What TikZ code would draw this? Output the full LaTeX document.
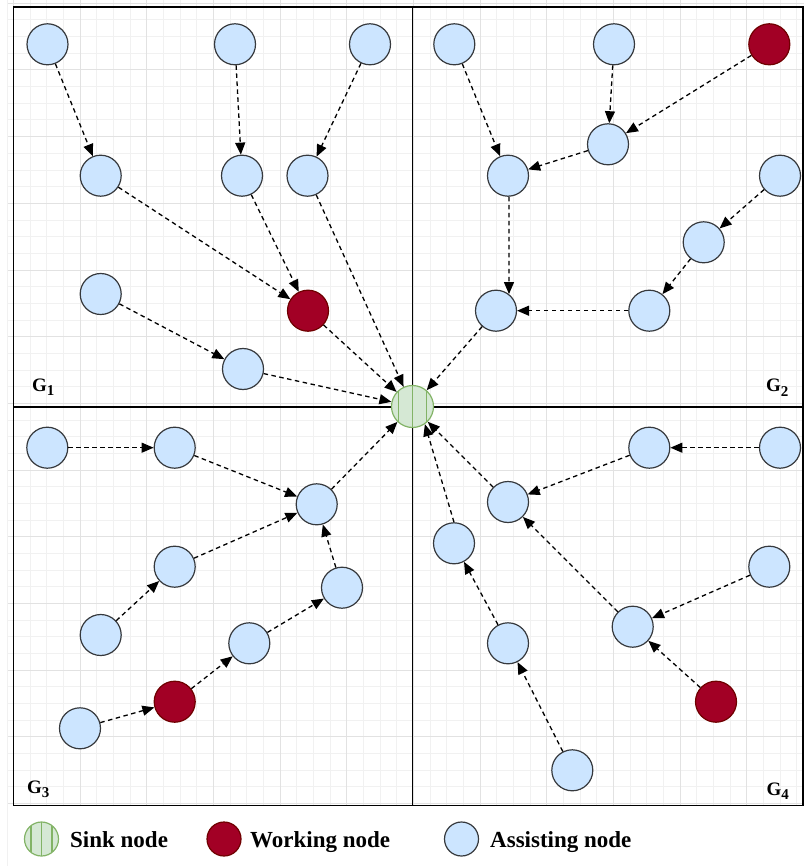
\documentclass[tikz,border=0pt]{standalone}
\usepackage{fontspec}
\setmainfont{Liberation Serif}
\usetikzlibrary{arrows.meta}
\definecolor{assistfill}{HTML}{CCE5FF}
\definecolor{assistdraw}{HTML}{36393D}
\definecolor{workfill}{HTML}{A20025}
\definecolor{workdraw}{HTML}{6F0000}
\definecolor{sinkfill}{HTML}{D5E8D4}
\definecolor{sinkdraw}{HTML}{82B366}
\definecolor{gridminor}{HTML}{F1F1F1}
\definecolor{gridmajor}{HTML}{E2E2E2}
\newcommand{\gsub}[1]{G\raisebox{-4.5pt}{\fontsize{15}{15}\selectfont #1}}
\begin{document}
\begin{tikzpicture}[x=1pt,y=-1pt,
  nd/.style={circle, minimum size=41pt, inner sep=0pt, line width=1.2pt},
  assist/.style={nd, fill=assistfill, draw=assistdraw},
  work/.style={nd, fill=workfill, draw=workdraw},
  sinkbase/.style={nd, fill=sinkfill, draw=sinkdraw},
  sink/.style={sinkbase, minimum size=42pt,
    path picture={\foreach \o in {-14,0,14}{\draw[sinkdraw,line width=1.2pt]
      ([xshift=\o pt]path picture bounding box.north) -- ([xshift=\o pt]path picture bounding box.south);}}},
  legsink/.style={sinkbase, minimum size=34pt,
    path picture={\foreach \o in {-10.5,0,10.5}{\draw[sinkdraw,line width=1.1pt]
      ([xshift=\o pt]path picture bounding box.north) -- ([xshift=\o pt]path picture bounding box.south);}}},
  legwork/.style={work, minimum size=34pt},
  legassist/.style={assist, minimum size=34pt},
  link/.style={-{Triangle[length=12pt,width=10pt]}, line width=1.3pt, dash pattern=on 4.5pt off 3.5pt},
  glabel/.style={anchor=base west, inner sep=0pt, font=\fontsize{19}{19}\selectfont\bfseries},
  legtext/.style={anchor=base west, inner sep=0pt, font=\fontsize{23}{23}\selectfont\bfseries},
  frameline/.style={line width=1.6pt, black}]
\useasboundingbox (0,0) rectangle (804,866);
% grid
\foreach \k in {0,...,47} \draw[gridminor, line width=1pt] ({13.333+16.667*\k},0) -- ({13.333+16.667*\k},805);
\foreach \k in {0,...,48} \draw[gridminor, line width=1pt] (7,{3.333+16.667*\k}) -- (804,{3.333+16.667*\k});
\foreach \k in {0,...,11} \draw[gridmajor, line width=1pt] ({13.333+66.667*\k},0) -- ({13.333+66.667*\k},805);
\foreach \k in {0,...,12} \draw[gridmajor, line width=1pt] (7,{3.333+66.667*\k}) -- (804,{3.333+66.667*\k});
\draw[gridminor, line width=1pt] (7.3,0) -- (7.3,866);
% frame
\draw[frameline] (13.3,7.3) rectangle (803,805.5);
\draw[frameline] (412.3,7.3) -- (412.3,805.5);
\draw[frameline] (13.3,406.7) -- (803,406.7);
% sink
\node[sink] (S) at (412.5,406.5) {};
% G1
\node[assist] (a1) at (47.5,44.3) {};
\node[assist] (a2) at (235,44.3) {};
\node[assist] (a3) at (370,44.3) {};
\node[assist] (b1) at (100.7,175.7) {};
\node[assist] (b2) at (242,175.7) {};
\node[assist] (b3) at (307.5,175.7) {};
\node[assist] (c1) at (100.7,294) {};
\node[work] (w1) at (308,310.7) {};
\node[assist] (d1) at (243,369) {};
% G2
\node[assist] (e1) at (454.3,44.3) {};
\node[assist] (e2) at (614,44.3) {};
\node[work] (w2) at (769.3,44.3) {};
\node[assist] (f1) at (608,144.3) {};
\node[assist] (g1) at (508,175.7) {};
\node[assist] (h1) at (780,175.7) {};
\node[assist] (h2) at (703.7,242.3) {};
\node[assist] (i1) at (496,310.7) {};
\node[assist] (h3) at (649.3,310.7) {};
% G3
\node[assist] (j1) at (47.3,447.7) {};
\node[assist] (j2) at (174.7,447.7) {};
\node[assist] (k1) at (316.7,504.3) {};
\node[assist] (l1) at (174.7,566.7) {};
\node[assist] (m1) at (342,587.7) {};
\node[assist] (n1) at (100.7,635) {};
\node[assist] (o1) at (249.3,643.3) {};
\node[work] (w3) at (174.7,701.7) {};
\node[assist] (p1) at (80,728.3) {};
% G4
\node[assist] (q1) at (649.3,447.7) {};
\node[assist] (q2) at (780,447.7) {};
\node[assist] (r1) at (508,502) {};
\node[assist] (s1) at (454,543.3) {};
\node[assist] (t1) at (769.3,566.7) {};
\node[assist] (u1) at (632.7,626.7) {};
\node[assist] (v1) at (508,643.3) {};
\node[work] (w4) at (716,701.7) {};
\node[assist] (x1) at (572.3,770.3) {};
% edges G1
\draw[link] (a1) -- (b1);
\draw[link] (a2) -- (b2);
\draw[link] (a3) -- (b3);
\draw[link] (b1) -- (w1);
\draw[link] (b2) -- (w1);
\draw[link] (b3) -- (S);
\draw[link] (c1) -- (d1);
\draw[link] (w1) -- (S);
\draw[link] (d1) -- (S);
% edges G2
\draw[link] (e1) -- (g1);
\draw[link] (e2) -- (f1);
\draw[link] (w2) -- (f1);
\draw[link] (f1) -- (g1);
\draw[link] ([xshift=1pt]g1.south) -- (i1.52);
\draw[link] (h1) -- (h2);
\draw[link] (h2) -- (h3);
\draw[link] (h3) -- (i1);
\draw[link] (i1) -- (S);
% edges G3
\draw[link] (j1) -- (j2);
\draw[link] (j2) -- (k1);
\draw[link] (l1) -- (k1);
\draw[link] (n1) -- (l1);
\draw[link] (k1) -- (S);
\draw[link] (m1) -- (k1);
\draw[link] (o1) -- (m1);
\draw[link] (w3) -- (o1);
\draw[link] (p1) -- (w3);
% edges G4
\draw[link] (q2) -- (q1);
\draw[link] (q1) -- (r1);
\draw[link] (r1) -- (S);
\draw[link] (s1.north) -- (S.-55);
\draw[link] (u1) -- (r1);
\draw[link] (t1) -- (u1);
\draw[link] (w4) -- (u1);
\draw[link] (v1) -- (s1);
\draw[link] (x1) -- (v1);
% group labels
\node[glabel] (G1) at (32,391) {\gsub{1}};
\node[glabel] (G2) at (766,391.5) {\gsub{2}};
\node[glabel] (G3) at (27,793) {\gsub{3}};
\node[glabel] (G4) at (766.5,795) {\gsub{4}};
% legend
\node[legsink] (Ls) at (41.5,839) {};
\node[legtext] (Lst) at (70,847) {Sink node};
\node[legwork] (Lw) at (224,839) {};
\node[legtext] (Lwt) at (250,847) {Working node};
\node[legassist] (La) at (461.5,839) {};
\node[legtext] (Lat) at (490,847) {Assisting node};
\end{tikzpicture}
\end{document}
